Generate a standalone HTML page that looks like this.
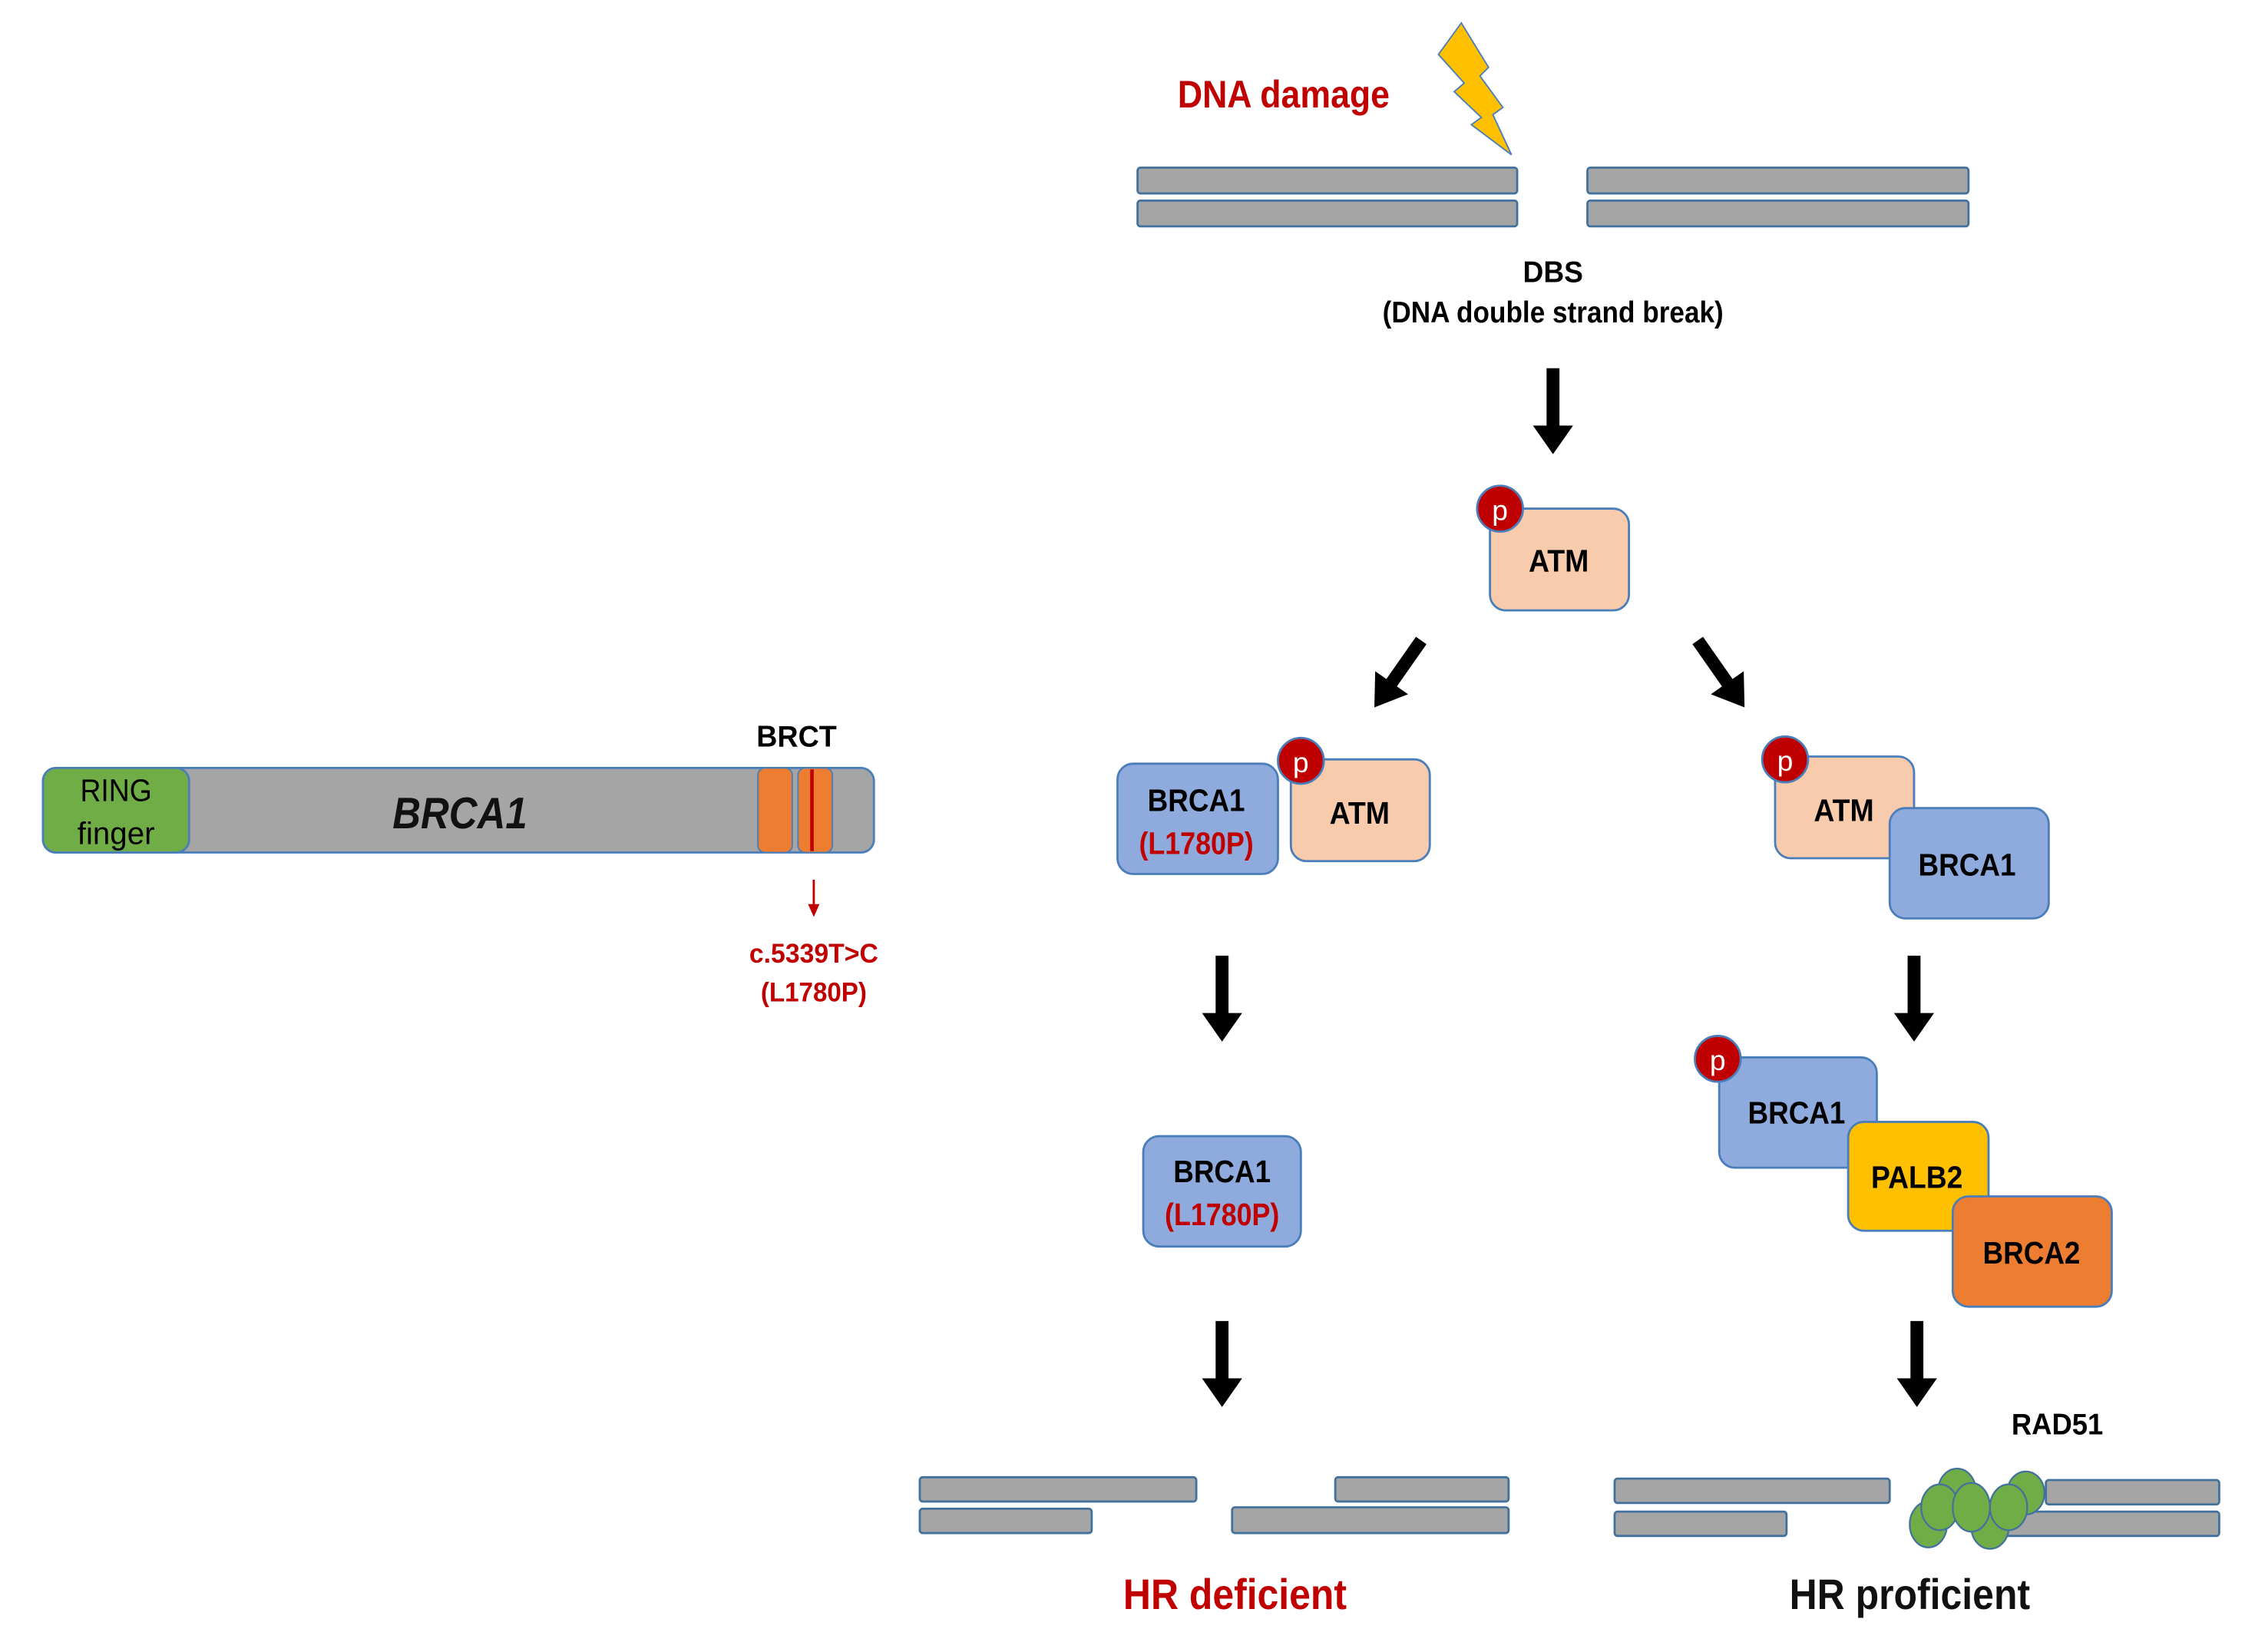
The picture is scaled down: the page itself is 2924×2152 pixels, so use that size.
<!DOCTYPE html>
<html><head><meta charset="utf-8"><style>
html,body{margin:0;padding:0;background:#fff;}
svg{display:block;}
text{font-family:"Liberation Sans",Arial,sans-serif;}
</style></head><body>
<svg width="2924" height="2152" viewBox="0 0 1567 1153" preserveAspectRatio="none" xmlns="http://www.w3.org/2000/svg">
<defs>
<g id="arrowD"><rect x="-4.5" y="0" width="9" height="42" fill="#000"/><polygon points="-14,40 14,40 0,60" fill="#000"/></g>
</defs>
<rect width="1567" height="1153" fill="#fff"/>

<!-- Top -->
<text x="822" y="75" font-size="27" font-weight="bold" fill="#c00000" textLength="148" lengthAdjust="spacingAndGlyphs">DNA damage</text>
<polygon points="1020,16 1004,38 1022,58 1015,64 1034,82 1027,87 1055,108 1042,80 1049,75 1033,53 1039,47" fill="#ffc000" stroke="#4a7ebb" stroke-width="1"/>
<g fill="#a5a5a5" stroke="#41719c" stroke-width="1.5">
<rect x="794" y="117" width="265" height="18" rx="2"/>
<rect x="794" y="140" width="265" height="18" rx="2"/>
<rect x="1108" y="117" width="266" height="18" rx="2"/>
<rect x="1108" y="140" width="266" height="18" rx="2"/>
</g>
<text x="1084" y="197" font-size="21" font-weight="bold" text-anchor="middle" textLength="42" lengthAdjust="spacingAndGlyphs">DBS</text>
<text x="1084" y="225" font-size="21" font-weight="bold" text-anchor="middle" textLength="238" lengthAdjust="spacingAndGlyphs">(DNA double strand break)</text>
<use href="#arrowD" x="1084" y="257"/>

<!-- ATM top -->
<rect x="1040" y="355" width="97" height="71" rx="11" fill="#f8cbad" stroke="#4a7ebb" stroke-width="1.5"/>
<text x="1088" y="399" font-size="22" font-weight="bold" text-anchor="middle" textLength="42" lengthAdjust="spacingAndGlyphs">ATM</text>
<circle cx="1047" cy="355" r="16" fill="#c00000" stroke="#4a7ebb" stroke-width="1.5"/>
<text x="1047" y="363" font-size="20" fill="#fff" text-anchor="middle">p</text>

<!-- diagonal arrows -->
<g transform="translate(992,447) rotate(35)"><rect x="-4.5" y="0" width="9" height="38" fill="#000"/><polygon points="-14,36 14,36 0,57" fill="#000"/></g>
<g transform="translate(1185,447) rotate(-35)"><rect x="-4.5" y="0" width="9" height="38" fill="#000"/><polygon points="-14,36 14,36 0,57" fill="#000"/></g>

<!-- left mid -->
<rect x="780" y="533" width="112" height="77" rx="11" fill="#8faadc" stroke="#4a7ebb" stroke-width="1.5"/>
<text x="835" y="566" font-size="22" font-weight="bold" text-anchor="middle" textLength="68" lengthAdjust="spacingAndGlyphs">BRCA1</text>
<text x="835" y="596" font-size="22" font-weight="bold" fill="#c00000" text-anchor="middle" textLength="80" lengthAdjust="spacingAndGlyphs">(L1780P)</text>
<rect x="901" y="530" width="97" height="71" rx="11" fill="#f8cbad" stroke="#4a7ebb" stroke-width="1.5"/>
<text x="949" y="575" font-size="22" font-weight="bold" text-anchor="middle" textLength="42" lengthAdjust="spacingAndGlyphs">ATM</text>
<circle cx="908" cy="531" r="16" fill="#c00000" stroke="#4a7ebb" stroke-width="1.5"/>
<text x="908" y="539" font-size="20" fill="#fff" text-anchor="middle">p</text>

<!-- right mid -->
<rect x="1239" y="528" width="97" height="71" rx="11" fill="#f8cbad" stroke="#4a7ebb" stroke-width="1.5"/>
<text x="1287" y="573" font-size="22" font-weight="bold" text-anchor="middle" textLength="42" lengthAdjust="spacingAndGlyphs">ATM</text>
<circle cx="1246" cy="530" r="16" fill="#c00000" stroke="#4a7ebb" stroke-width="1.5"/>
<text x="1246" y="538" font-size="20" fill="#fff" text-anchor="middle">p</text>
<rect x="1319" y="564" width="111" height="77" rx="11" fill="#8faadc" stroke="#4a7ebb" stroke-width="1.5"/>
<text x="1373" y="611" font-size="22" font-weight="bold" text-anchor="middle" textLength="68" lengthAdjust="spacingAndGlyphs">BRCA1</text>

<use href="#arrowD" x="853" y="667"/>
<use href="#arrowD" x="1336" y="667"/>

<!-- left lower -->
<rect x="798" y="793" width="110" height="77" rx="11" fill="#8faadc" stroke="#4a7ebb" stroke-width="1.5"/>
<text x="853" y="825" font-size="22" font-weight="bold" text-anchor="middle" textLength="68" lengthAdjust="spacingAndGlyphs">BRCA1</text>
<text x="853" y="855" font-size="22" font-weight="bold" fill="#c00000" text-anchor="middle" textLength="80" lengthAdjust="spacingAndGlyphs">(L1780P)</text>

<!-- right complex -->
<rect x="1200" y="738" width="110" height="77" rx="11" fill="#8faadc" stroke="#4a7ebb" stroke-width="1.5"/>
<text x="1254" y="784" font-size="22" font-weight="bold" text-anchor="middle" textLength="68" lengthAdjust="spacingAndGlyphs">BRCA1</text>
<circle cx="1199" cy="739" r="16" fill="#c00000" stroke="#4a7ebb" stroke-width="1.5"/>
<text x="1199" y="747" font-size="20" fill="#fff" text-anchor="middle">p</text>
<rect x="1290" y="783" width="98" height="76" rx="11" fill="#ffc000" stroke="#4a7ebb" stroke-width="1.5"/>
<text x="1338" y="829" font-size="22" font-weight="bold" text-anchor="middle" textLength="64" lengthAdjust="spacingAndGlyphs">PALB2</text>
<rect x="1363" y="835" width="111" height="77" rx="11" fill="#ed7d31" stroke="#4a7ebb" stroke-width="1.5"/>
<text x="1418" y="882" font-size="22" font-weight="bold" text-anchor="middle" textLength="68" lengthAdjust="spacingAndGlyphs">BRCA2</text>

<use href="#arrowD" x="853" y="922"/>
<use href="#arrowD" x="1338" y="922"/>

<!-- bottom DNA -->
<g fill="#a5a5a5" stroke="#41719c" stroke-width="1.5">
<rect x="642" y="1031" width="193" height="17" rx="2"/>
<rect x="642" y="1053" width="120" height="17" rx="2"/>
<rect x="932" y="1031" width="121" height="17" rx="2"/>
<rect x="860" y="1052" width="193" height="18" rx="2"/>
<rect x="1127" y="1032" width="192" height="17" rx="2"/>
<rect x="1127" y="1055" width="120" height="17" rx="2"/>
<rect x="1428" y="1033" width="121" height="17" rx="2"/>
<rect x="1380" y="1055" width="169" height="17" rx="2"/>
</g>
<g fill="#70ad47" stroke="#41719c" stroke-width="1.2">
<ellipse cx="1346" cy="1064" rx="13" ry="16"/>
<ellipse cx="1389" cy="1066" rx="13" ry="15"/>
<ellipse cx="1366" cy="1040" rx="13" ry="15"/>
<ellipse cx="1414" cy="1042" rx="13" ry="15"/>
<ellipse cx="1354" cy="1052" rx="13" ry="16"/>
<ellipse cx="1376" cy="1052" rx="13" ry="17"/>
<ellipse cx="1402" cy="1052" rx="13" ry="16"/>
</g>
<text x="1436" y="1001" font-size="21" font-weight="bold" text-anchor="middle" textLength="64" lengthAdjust="spacingAndGlyphs">RAD51</text>
<text x="862" y="1123" font-size="30" font-weight="bold" fill="#c00000" text-anchor="middle" textLength="156" lengthAdjust="spacingAndGlyphs">HR deficient</text>
<text x="1333" y="1123" font-size="30" font-weight="bold" fill="#111" text-anchor="middle" textLength="168" lengthAdjust="spacingAndGlyphs">HR proficient</text>

<!-- BRCA1 gene -->
<rect x="30" y="536" width="580" height="59" rx="9" fill="#a5a5a5" stroke="#4a7ebb" stroke-width="1.5"/>
<rect x="30" y="536" width="102" height="59" rx="9" fill="#70ad47" stroke="#4a7ebb" stroke-width="1.5"/>
<text x="81" y="559" font-size="22" text-anchor="middle" textLength="50" lengthAdjust="spacingAndGlyphs">RING</text>
<text x="81" y="589" font-size="22" text-anchor="middle" textLength="54" lengthAdjust="spacingAndGlyphs">finger</text>
<text x="321" y="578" font-size="31" font-weight="bold" font-style="italic" fill="#111" text-anchor="middle" textLength="94" lengthAdjust="spacingAndGlyphs">BRCA1</text>
<rect x="529" y="536" width="24" height="59" rx="5" fill="#ed7d31" stroke="#4a7ebb" stroke-width="1"/>
<rect x="557" y="536" width="24" height="59" rx="5" fill="#ed7d31" stroke="#4a7ebb" stroke-width="1"/>
<rect x="565.5" y="537" width="2.5" height="57" fill="#c00000"/>
<text x="556" y="521" font-size="21" font-weight="bold" text-anchor="middle" textLength="56" lengthAdjust="spacingAndGlyphs">BRCT</text>
<line x1="568" y1="614" x2="568" y2="633" stroke="#c00000" stroke-width="1.5"/>
<polygon points="564,631 572,631 568,640" fill="#c00000"/>
<text x="568" y="672" font-size="19" font-weight="bold" fill="#c00000" text-anchor="middle" textLength="90" lengthAdjust="spacingAndGlyphs">c.5339T&gt;C</text>
<text x="568" y="699" font-size="19" font-weight="bold" fill="#c00000" text-anchor="middle" textLength="74" lengthAdjust="spacingAndGlyphs">(L1780P)</text>
</svg>
</body></html>
